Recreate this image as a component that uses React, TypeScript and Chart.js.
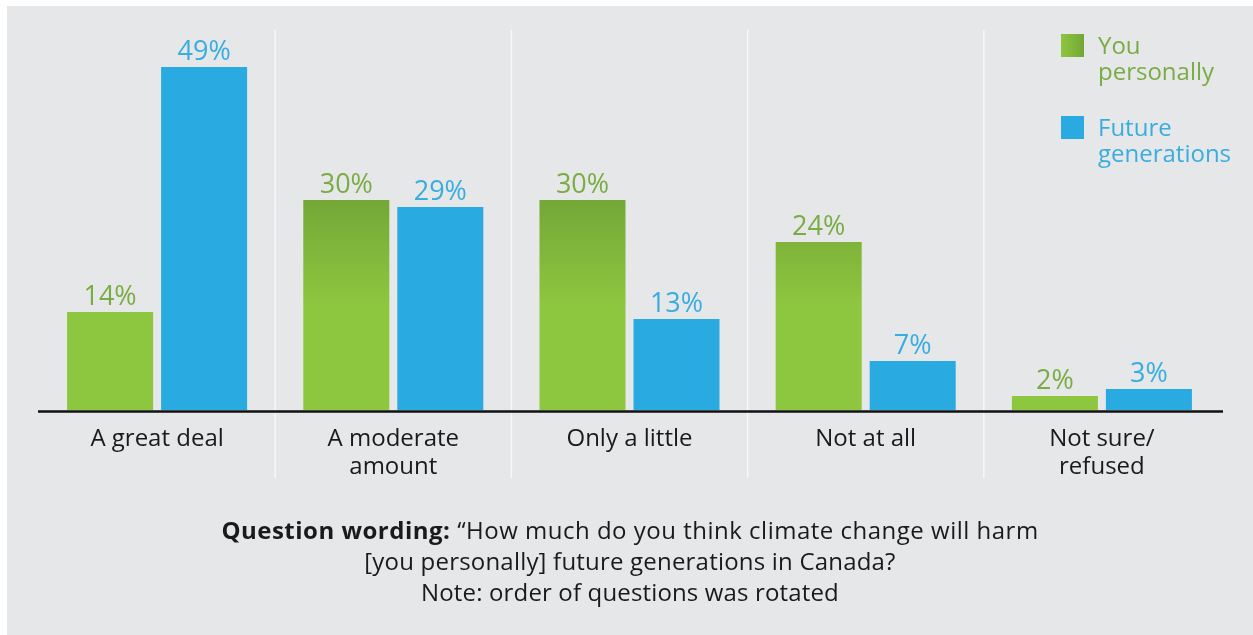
import React, { useEffect, useRef } from 'react';
import { Chart, registerables } from 'chart.js';

Chart.register(...registerables);

// Answer categories (multi-line tick labels)
const categories: string[][] = [
  ['A great deal'],
  ['A moderate', 'amount'],
  ['Only a little'],
  ['Not at all'],
  ['Not sure/', 'refused'],
];

// Share of respondents (%)
const personallyValues = [14, 30, 30, 24, 2];
const futureValues = [49, 29, 13, 7, 3];

const seriesNames = ['You personally', 'Future generations'];
const legendLines = [
  ['You', 'personally'],
  ['Future', 'generations'],
];

const GREEN = '#8dc63f';
const GREEN_DARK = '#74a737';
const BLUE = '#29abe2';
const GREEN_TEXT = '#7aac44';
const BLUE_TEXT = '#38ade0';
const LABEL_COLORS = [GREEN_TEXT, BLUE_TEXT];
const FONT = '"Open Sans", "Noto Sans", sans-serif';

// Green bars darken toward the top of the plot
function greenFill(context: any) {
  const chart = context.chart;
  const area = chart.chartArea;
  if (!area) return GREEN;
  const g = chart.ctx.createLinearGradient(0, area.top, 0, area.bottom);
  g.addColorStop(0, '#6e9f33');
  g.addColorStop(0.44, GREEN_DARK);
  g.addColorStop(0.72, GREEN);
  g.addColorStop(1, GREEN);
  return g;
}

const decorPlugin = {
  id: 'decor',
  beforeDatasetsDraw(chart: any) {
    const { ctx, chartArea, scales } = chart;
    const x = scales.x;
    ctx.save();
    ctx.strokeStyle = 'rgba(255,255,255,0.7)';
    ctx.lineWidth = 1.5;
    for (let i = 0; i < x.ticks.length - 1; i++) {
      const bx = (x.getPixelForTick(i) + x.getPixelForTick(i + 1)) / 2;
      ctx.beginPath();
      ctx.moveTo(bx, chartArea.top - 2);
      ctx.lineTo(bx, chartArea.bottom + 68);
      ctx.stroke();
    }
    ctx.restore();
  },
  afterDatasetsDraw(chart: any) {
    const { ctx, chartArea } = chart;
    ctx.save();
    // baseline
    ctx.strokeStyle = '#111111';
    ctx.lineWidth = 2.5;
    ctx.beginPath();
    ctx.moveTo(chartArea.left - 1, chartArea.bottom + 1.5);
    ctx.lineTo(chartArea.right + 3, chartArea.bottom + 1.5);
    ctx.stroke();
    // value labels above bars
    ctx.font = `27px ${FONT}`;
    ctx.textAlign = 'center';
    ctx.textBaseline = 'alphabetic';
    chart.data.datasets.forEach((ds: any, di: number) => {
      const meta = chart.getDatasetMeta(di);
      ctx.fillStyle = LABEL_COLORS[di];
      meta.data.forEach((bar: any, i: number) => {
        ctx.fillText(`${ds.data[i]}%`, bar.x, bar.y - 7);
      });
    });
    ctx.restore();
  },
};

export default function App() {
  const canvasRef = useRef<HTMLCanvasElement | null>(null);

  useEffect(() => {
    if (!canvasRef.current) return;
    const chart = new Chart(canvasRef.current, {
      type: 'bar',
      data: {
        labels: categories,
        datasets: [
          { label: seriesNames[0], data: personallyValues, backgroundColor: greenFill, borderWidth: 0 },
          { label: seriesNames[1], data: futureValues, backgroundColor: BLUE, borderWidth: 0 },
        ],
      },
      options: {
        animation: false,
        responsive: false,
        maintainAspectRatio: false,
        layout: { padding: { left: 39, right: 33, top: 32, bottom: 145 } },
        datasets: { bar: { categoryPercentage: 0.796, barPercentage: 0.915 } },
        plugins: { legend: { display: false }, tooltip: { enabled: false } },
        scales: {
          x: {
            grid: { display: false, drawTicks: false },
            border: { display: false },
            ticks: {
              color: '#1a1a1a',
              font: { family: FONT, size: 24, lineHeight: 28 / 24 },
              padding: 15,
              maxRotation: 0,
              autoSkip: false,
            },
            afterFit: (scale: any) => {
              scale.height = 80;
            },
          },
          y: { display: false, min: 0, max: 54 },
        },
      },
      plugins: [decorPlugin],
    } as any);
    return () => chart.destroy();
  }, []);

  const legendColors = [GREEN_TEXT, BLUE_TEXT];
  const swatchFills = [`linear-gradient(to right, ${GREEN}, ${GREEN_DARK})`, BLUE];
  const legendTops = [34, 116];

  return (
    <div style={{ position: 'absolute', left: 0, top: 0, width: 1253, height: 635, background: '#ffffff', overflow: 'hidden', fontFamily: FONT }}>
      <div style={{ position: 'absolute', left: 7, top: 6, width: 1246, height: 629, background: '#e6e7e8' }} />
      <canvas ref={canvasRef} width={1253} height={635} style={{ position: 'absolute', left: 0, top: 0, display: 'block' }} />
      {legendLines.map((lines, i) => (
        <React.Fragment key={i}>
          <div style={{ position: 'absolute', left: 1061, top: legendTops[i], width: 23, height: 23, background: swatchFills[i] }} />
          <div style={{ position: 'absolute', left: 1098, top: legendTops[i] - 2.3, fontSize: 24, lineHeight: '26px', color: legendColors[i], whiteSpace: 'nowrap' }}>
            {lines.map((l, j) => (
              <div key={j}>{l}</div>
            ))}
          </div>
        </React.Fragment>
      ))}
      <div style={{ position: 'absolute', left: 7, top: 514.2, width: 1246, textAlign: 'center', fontSize: 24, lineHeight: '31px', color: '#1a1a1a' }}>
        <div style={{ letterSpacing: '0.5px' }}>
          <b>Question wording:</b> “How much do you think climate change will harm
        </div>
        <div style={{ letterSpacing: '0.2px' }}>[you personally] future generations in Canada?</div>
        <div style={{ letterSpacing: '0.15px' }}>Note: order of questions was rotated</div>
      </div>
    </div>
  );
}
